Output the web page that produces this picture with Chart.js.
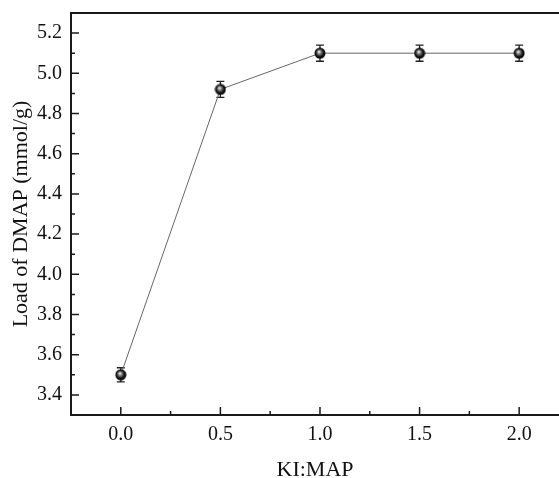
<!DOCTYPE html>
<html><head><meta charset="utf-8">
<script src="https://cdn.jsdelivr.net/npm/chart.js@4"></script>
<style>html,body{margin:0;padding:0;background:#fff}#w{width:559px;height:478px}</style>
</head><body><div id="w"><canvas id="c"></canvas></div>
<script>
const ratios = [0.0, 0.5, 1.0, 1.5, 2.0];
const loads = [3.50, 4.92, 5.10, 5.10, 5.10];
const errors = [0.035, 0.04, 0.04, 0.04, 0.04];
const xTicks = [0.0, 0.5, 1.0, 1.5, 2.0];
const yTicks = [3.4, 3.6, 3.8, 4.0, 4.2, 4.4, 4.6, 4.8, 5.0, 5.2];
const xMinor = [0.25, 0.75, 1.25, 1.75];
const yMinor = [3.5, 3.7, 3.9, 4.1, 4.3, 4.5, 4.7, 4.9, 5.1];

const FONT = "'Liberation Serif','Times New Roman',serif";

// sphere marker
const ball = document.createElement('canvas');
ball.width = 12; ball.height = 12;
(function(){
  const g = ball.getContext('2d');
  const grd = g.createRadialGradient(5, 4.5, 0.3, 6, 6, 6);
  grd.addColorStop(0, '#f4f4f4');
  grd.addColorStop(0.3, '#777');
  grd.addColorStop(0.65, '#111');
  grd.addColorStop(1, '#000');
  g.fillStyle = grd;
  g.beginPath(); g.arc(6, 6, 5.5, 0, Math.PI * 2); g.fill();
})();

const decor = {
  id: 'decor',
  beforeDatasetsDraw(chart) {
    const {ctx, scales: {x, y}} = chart;
    ctx.save();
    ctx.strokeStyle = '#222';
    ctx.lineWidth = 1.3;
    ratios.forEach((r, i) => {
      const px = x.getPixelForValue(r);
      const t = y.getPixelForValue(loads[i] + errors[i]);
      const b = y.getPixelForValue(loads[i] - errors[i]);
      ctx.beginPath();
      ctx.moveTo(px, t); ctx.lineTo(px, b);
      ctx.moveTo(px - 4, t); ctx.lineTo(px + 4, t);
      ctx.moveTo(px - 4, b); ctx.lineTo(px + 4, b);
      ctx.stroke();
    });
    ctx.restore();
  },
  afterDraw(chart) {
    const {ctx, chartArea: a, scales: {x, y}} = chart;
    ctx.save();
    ctx.strokeStyle = '#1a1a1a';
    ctx.lineWidth = 2;
    ctx.beginPath();
    ctx.moveTo(a.left, a.top); ctx.lineTo(a.right + 2, a.top);
    ctx.moveTo(a.left, a.top - 1); ctx.lineTo(a.left, a.bottom + 1);
    ctx.moveTo(a.left - 1, a.bottom); ctx.lineTo(a.right + 2, a.bottom);
    ctx.stroke();
    ctx.lineWidth = 1.5;
    ctx.beginPath();
    xTicks.forEach(v => { const p = x.getPixelForValue(v); ctx.moveTo(p, a.bottom); ctx.lineTo(p, a.bottom - 8); });
    xMinor.forEach(v => { const p = x.getPixelForValue(v); ctx.moveTo(p, a.bottom); ctx.lineTo(p, a.bottom - 4); });
    yTicks.forEach(v => { const p = y.getPixelForValue(v); ctx.moveTo(a.left, p); ctx.lineTo(a.left + 8, p); });
    yMinor.forEach(v => { const p = y.getPixelForValue(v); ctx.moveTo(a.left, p); ctx.lineTo(a.left + 4, p); });
    ctx.stroke();
    ctx.restore();
  }
};

new Chart(document.getElementById('c'), {
  type: 'scatter',
  data: {
    datasets: [{
      data: ratios.map((r, i) => ({x: r, y: loads[i]})),
      showLine: true,
      borderColor: '#666',
      borderWidth: 1,
      pointStyle: ball,
      pointRadius: 6,
      pointHoverRadius: 6
    }]
  },
  options: {
    responsive: true,
    maintainAspectRatio: false,
    animation: false,
    layout: {autoPadding: false, padding: {top: 13, right: 0, left: 0, bottom: 0}},
    plugins: {legend: {display: false}, tooltip: {enabled: false}},
    scales: {
      x: {
        type: 'linear', min: -0.25, max: 2.2,
        afterBuildTicks(s) { s.ticks = xTicks.map(v => ({value: v})); },
        afterFit(s) { s.height = 63; s.paddingLeft = 0; s.paddingRight = 0; },
        grid: {display: false, drawTicks: false},
        border: {display: false},
        ticks: {color: '#111', font: {family: FONT, size: 20}, padding: 8,
          callback: v => v.toFixed(1), maxRotation: 0, autoSkip: false},
        title: {display: true, text: 'KI:MAP', color: '#111',
          font: {family: FONT, size: 22}, padding: {top: 0, bottom: -5}}
      },
      y: {
        min: 3.3, max: 5.3,
        afterBuildTicks(s) { s.ticks = yTicks.map(v => ({value: v})); },
        afterFit(s) { s.width = 71; s.paddingTop = 0; s.paddingBottom = 0; },
        grid: {display: false, drawTicks: false},
        border: {display: false},
        ticks: {color: '#111', font: {family: FONT, size: 20}, padding: 9,
          callback: v => v.toFixed(1), autoSkip: false},
        title: {display: true, text: 'Load of DMAP (mmol/g)', color: '#111',
          font: {family: FONT, size: 22}, padding: {top: 8, bottom: 0}}
      }
    }
  },
  plugins: [decor]
});
</script>
</body></html>
